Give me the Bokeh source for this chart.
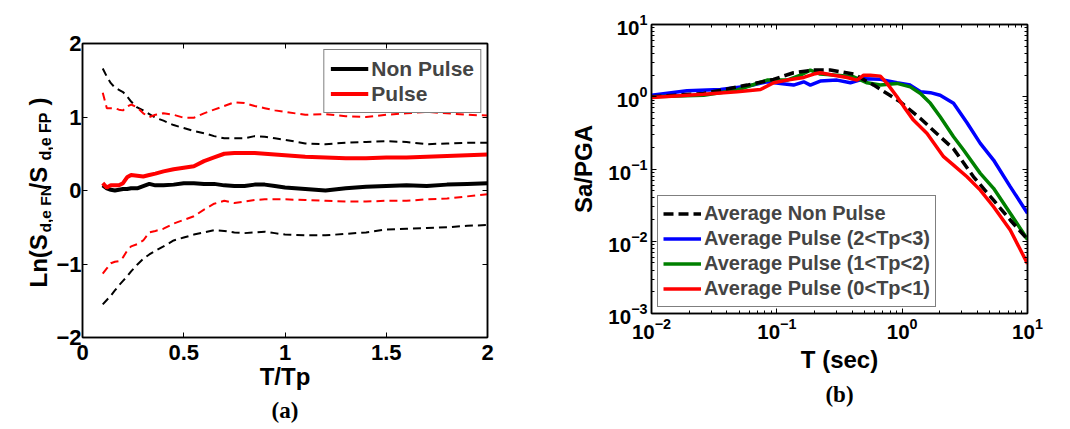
import numpy as np
from bokeh.plotting import figure
from bokeh.models import (LinearAxis, LogAxis, Legend, LegendItem, FixedTicker, Title,
                          Range1d, LogTicker, CustomJSTickFormatter)
from bokeh.core.properties import value
from bokeh.layouts import row
from bokeh.embed import file_html
from bokeh.resources import INLINE

# ---------------- data: panel (a) ----------------
t_tp = [0.10, 0.12, 0.14, 0.16, 0.18, 0.20, 0.22, 0.24, 0.27, 0.30, 0.33, 0.36, 0.40, 0.45,
        0.50, 0.55, 0.60, 0.65, 0.70, 0.75, 0.80, 0.85, 0.90, 0.95, 1.00, 1.10, 1.20, 1.30,
        1.40, 1.50, 1.60, 1.70, 1.80, 1.90, 2.00]
nonpulse_mean = [0.07, 0.03, 0.01, 0.00, 0.01, 0.02, 0.02, 0.03, 0.03, 0.06, 0.09, 0.07, 0.07, 0.08,
                 0.10, 0.10, 0.09, 0.09, 0.07, 0.06, 0.06, 0.08, 0.08, 0.06, 0.04, 0.02, 0.00, 0.03,
                 0.05, 0.06, 0.07, 0.06, 0.08, 0.09, 0.10]
pulse_mean = [0.10, 0.04, 0.07, 0.07, 0.07, 0.10, 0.18, 0.21, 0.20, 0.19, 0.21, 0.23, 0.26, 0.29,
              0.31, 0.33, 0.40, 0.45, 0.50, 0.51, 0.51, 0.51, 0.50, 0.49, 0.48, 0.46, 0.45, 0.44,
              0.44, 0.45, 0.45, 0.46, 0.47, 0.48, 0.49]
nonpulse_upper = [1.66, 1.55, 1.46, 1.40, 1.37, 1.34, 1.28, 1.21, 1.13, 1.09, 1.04, 0.99, 0.95, 0.89,
                  0.85, 0.81, 0.78, 0.74, 0.71, 0.71, 0.71, 0.74, 0.73, 0.71, 0.69, 0.64, 0.63, 0.65,
                  0.66, 0.67, 0.66, 0.63, 0.64, 0.65, 0.65]
nonpulse_lower = [-1.55, -1.49, -1.43, -1.36, -1.29, -1.23, -1.17, -1.10, -1.01, -0.93, -0.87, -0.82,
                  -0.76, -0.68, -0.64, -0.60, -0.57, -0.54, -0.55, -0.57, -0.58, -0.57, -0.56, -0.58,
                  -0.60, -0.61, -0.61, -0.59, -0.57, -0.53, -0.52, -0.51, -0.50, -0.48, -0.47]
pulse_upper = [1.33, 1.12, 1.12, 1.12, 1.10, 1.09, 1.14, 1.17, 1.13, 1.05, 1.00, 1.03, 1.05, 1.03,
               0.99, 0.99, 1.05, 1.10, 1.15, 1.20, 1.19, 1.15, 1.12, 1.09, 1.07, 1.03, 1.04, 1.01,
               1.00, 1.03, 1.05, 1.07, 1.05, 1.03, 1.02]
pulse_lower = [-1.13, -1.06, -0.99, -0.97, -0.96, -0.91, -0.82, -0.76, -0.73, -0.68, -0.57, -0.55,
               -0.52, -0.45, -0.40, -0.35, -0.26, -0.18, -0.14, -0.17, -0.15, -0.13, -0.12, -0.12,
               -0.12, -0.13, -0.14, -0.15, -0.15, -0.14, -0.14, -0.12, -0.11, -0.08, -0.05]
a_xticks = [0, 0.5, 1, 1.5, 2]
a_yticks = [-2, -1, 0, 1, 2]
a_ylabel_parts = ["Ln(S", "d,e FN", "/S", "d,e FP", ")"]

# ---------------- data: panel (b) ----------------
np_T = [0.01, 0.026, 0.058, 0.094, 0.136, 0.197, 0.267, 0.41, 0.593, 0.757, 0.966, 1.40, 2.01,
        2.57, 3.71, 5.36, 7.28, 10]
np_sa = [1.0, 1.11, 1.45, 1.74, 2.15, 2.34, 2.34, 2.06, 1.45, 1.11, 0.85, 0.50, 0.28, 0.19, 0.078,
         0.037, 0.0197, 0.0106]
p23_T = [0.01, 0.0192, 0.0355, 0.058, 0.0836, 0.1067, 0.136, 0.164, 0.185, 0.222, 0.302, 0.386,
         0.493, 0.67, 0.91, 1.16, 1.40, 1.68, 2.01, 2.57, 3.29, 4.2, 5.36, 7.28, 10]
p23_sa = [1.05, 1.21, 1.26, 1.40, 1.61, 1.53, 1.45, 1.61, 1.45, 1.65, 1.70, 1.56, 1.77, 1.74, 1.56,
          1.45, 1.17, 1.14, 1.05, 0.81, 0.437, 0.226, 0.133, 0.057, 0.0244]
p12_T = [0.01, 0.0261, 0.0482, 0.0836, 0.121, 0.154, 0.185, 0.222, 0.302, 0.41, 0.524, 0.67, 0.91,
         1.16, 1.40, 1.68, 2.01, 2.57, 3.09, 4.2, 5.36, 7.28, 10]
p12_sa = [1.0, 1.05, 1.24, 1.70, 1.70, 1.99, 2.34, 2.06, 1.99, 1.89, 1.56, 1.45, 1.53, 1.37, 1.11,
          0.81, 0.53, 0.28, 0.183, 0.087, 0.054, 0.0244, 0.0106]
p01_T = [0.01, 0.0261, 0.0482, 0.074, 0.0944, 0.121, 0.164, 0.197, 0.222, 0.284, 0.363, 0.437,
         0.493, 0.557, 0.67, 0.757, 0.91, 1.03, 1.23, 1.58, 2.14, 2.57, 3.29, 4.2, 5.36, 7.28, 10]
p01_sa = [0.98, 1.08, 1.17, 1.26, 1.56, 1.70, 1.85, 2.06, 2.15, 1.99, 1.85, 1.70, 1.99, 1.99, 1.93,
          1.53, 1.0, 0.73, 0.475, 0.31, 0.148, 0.113, 0.078, 0.051, 0.030, 0.0143, 0.0049]
b_labels = ["Average Non Pulse", "Average Pulse (2<Tp<3)", "Average Pulse (1<Tp<2)",
            "Average Pulse (0<Tp<1)"]

SANS = "Liberation Sans"
SERIF = "Liberation Serif"
blank = CustomJSTickFormatter(code="return ''")
H = 428


def no_align(p):
    if "frame_align" in p.properties():
        p.frame_align = False


def style_axis(ax, size, label_size):
    ax.axis_line_color = "black"
    ax.axis_line_width = 1.5
    ax.major_tick_in = 5
    ax.major_tick_out = 0
    ax.major_tick_line_width = 1
    ax.minor_tick_in = 3
    ax.minor_tick_out = 0
    ax.major_label_text_font = SANS
    ax.major_label_text_font_style = "bold"
    ax.major_label_text_font_size = size
    ax.major_label_text_color = "black"
    ax.axis_label_text_font = SANS
    ax.axis_label_text_font_style = "bold"
    ax.axis_label_text_font_size = label_size
    ax.axis_label_text_color = "black"


# ================= y-label strip for panel (a) =================
LW = 53
lab = figure(frame_width=LW, frame_height=H, x_range=Range1d(0, LW), y_range=Range1d(0, H),
             output_backend="svg", toolbar_location=None, x_axis_location=None,
             y_axis_location=None, min_border=0)
lab.grid.visible = False
lab.outline_line_color = None
no_align(lab)
# (text, x, y, size) positions in strip pixels (y measured from the bottom)
for txt, sx, sy, fs in zip(a_ylabel_parts, [38, 45, 38, 45, 38], [141, 196, 239, 268, 323],
                           ["24px", "15.5px", "24px", "16px", "24px"]):
    lab.text(x=[sx], y=[sy], text=[txt], angle=np.pi / 2, text_font=value(SANS),
             text_font_style="bold", text_font_size=fs, text_align="left",
             text_baseline="alphabetic", text_color="black")

# ================= panel (a) =================
p1 = figure(frame_width=405, frame_height=294, x_range=Range1d(0, 2), y_range=Range1d(-2, 2),
            output_backend="svg", toolbar_location=None,
            min_border_left=82 - LW, min_border_right=61, min_border_top=43,
            min_border_bottom=H - 43 - 294)
p1.grid.visible = False
p1.outline_line_color = "black"
p1.outline_line_width = 1.5
no_align(p1)

p1.line(t_tp, nonpulse_upper, line_color="black", line_width=2, line_dash="8 5")
p1.line(t_tp, nonpulse_lower, line_color="black", line_width=2, line_dash="8 5")
p1.line(t_tp, pulse_upper, line_color="red", line_width=2, line_dash="8 5")
p1.line(t_tp, pulse_lower, line_color="red", line_width=2, line_dash="8 5")
r_np = p1.line(t_tp, nonpulse_mean, line_color="black", line_width=4)
r_p = p1.line(t_tp, pulse_mean, line_color="red", line_width=4)

for ax in (p1.xaxis[0], p1.yaxis[0]):
    style_axis(ax, "22px", "24px")
    ax.minor_tick_line_color = None
p1.xaxis[0].ticker = FixedTicker(ticks=a_xticks)
p1.yaxis[0].ticker = FixedTicker(ticks=a_yticks)
p1.xaxis[0].axis_label = "T/Tp"
p1.xaxis[0].major_label_standoff = 7
p1.xaxis[0].axis_label_standoff = 0
p1.yaxis[0].major_label_standoff = 1

top1 = LinearAxis(ticker=FixedTicker(ticks=a_xticks), formatter=blank)
right1 = LinearAxis(ticker=FixedTicker(ticks=a_yticks), formatter=blank)
for ax in (top1, right1):
    style_axis(ax, "1px", "1px")
    ax.minor_tick_line_color = None
    ax.major_label_standoff = 0
p1.add_layout(top1, "above")
p1.add_layout(right1, "right")

leg1 = Legend(items=[LegendItem(label="Non Pulse", renderers=[r_np]),
                     LegendItem(label="Pulse", renderers=[r_p])],
              location="top_right", margin=6, padding=6, spacing=0,
              glyph_width=38, glyph_height=25, label_height=25, label_standoff=3,
              border_line_color="black", border_line_width=1.5,
              label_text_font=SANS, label_text_font_style="bold", label_text_font_size="21px",
              background_fill_alpha=1)
p1.add_layout(leg1)
p1.add_layout(Title(text="(a)", align="center", offset=-10, standoff=6, text_font=SERIF,
                    text_font_style="bold", text_font_size="23px", text_color="black"), "below")

# ================= panel (b) =================
p2 = figure(frame_width=376, frame_height=289, x_axis_type="log", y_axis_type="log",
            x_range=Range1d(1e-2, 1e1), y_range=Range1d(1e-3, 1e1),
            output_backend="svg", toolbar_location=None,
            min_border_left=103, min_border_right=42, min_border_top=24,
            min_border_bottom=H - 24 - 289)
p2.grid.visible = False
p2.outline_line_color = "black"
p2.outline_line_width = 1.5
no_align(p2)

r_b = p2.line(p23_T, p23_sa, line_color="#0000ff", line_width=3.5)
r_g = p2.line(p12_T, p12_sa, line_color="#008000", line_width=3.5)
r_k = p2.line(np_T, np_sa, line_color="black", line_width=3.5, line_dash="10 5")
r_r = p2.line(p01_T, p01_sa, line_color="#ff0000", line_width=3.5)

for ax in (p2.xaxis[0], p2.yaxis[0]):
    style_axis(ax, "20.5px", "24px")
    ax.ticker = LogTicker(num_minor_ticks=10)
p2.xaxis[0].axis_label = "T (sec)"
p2.yaxis[0].axis_label = "Sa/PGA"
p2.xaxis[0].major_label_standoff = 4
p2.xaxis[0].axis_label_standoff = 4
p2.yaxis[0].major_label_standoff = 4
p2.yaxis[0].axis_label_standoff = 8

top2 = LogAxis(ticker=LogTicker(num_minor_ticks=10), formatter=blank)
right2 = LogAxis(ticker=LogTicker(num_minor_ticks=10), formatter=blank)
for ax in (top2, right2):
    style_axis(ax, "1px", "1px")
    ax.major_label_standoff = 0
p2.add_layout(top2, "above")
p2.add_layout(right2, "right")

leg2 = Legend(items=[LegendItem(label=b_labels[0], renderers=[r_k]),
                     LegendItem(label=b_labels[1], renderers=[r_b]),
                     LegendItem(label=b_labels[2], renderers=[r_g]),
                     LegendItem(label=b_labels[3], renderers=[r_r])],
              location="bottom_left", margin=6, padding=5, spacing=0,
              glyph_width=38, glyph_height=25, label_height=25, label_standoff=3,
              border_line_color="black", border_line_width=1.5,
              label_text_font=SANS, label_text_font_style="bold", label_text_font_size="20px",
              background_fill_alpha=1)
p2.add_layout(leg2)
p2.add_layout(Title(text="(b)", align="center", offset=2, standoff=8, text_font=SERIF,
                    text_font_style="bold", text_font_size="23px", text_color="black"), "below")

layout = row(lab, p1, p2)
open("out.html", "w").write(file_html(layout, INLINE))
